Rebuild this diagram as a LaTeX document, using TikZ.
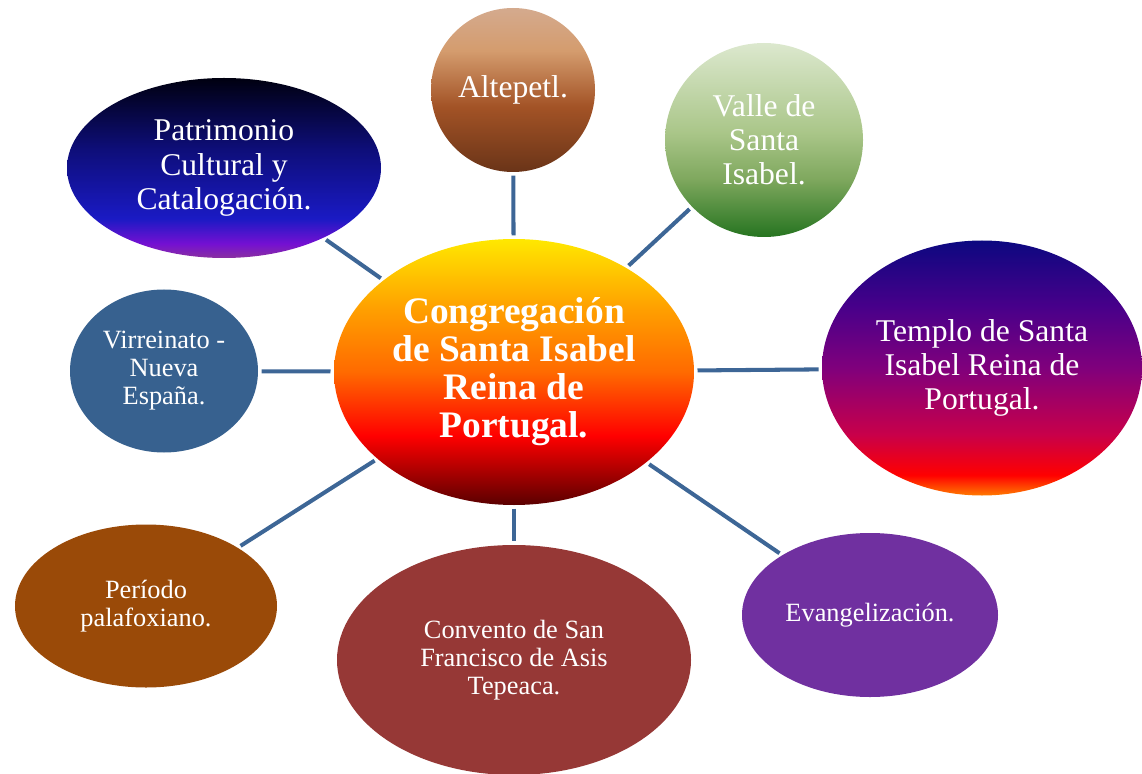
\documentclass[tikz,border=0pt]{standalone}
\usepackage{fontspec}
\setmainfont{Liberation Serif}
\usepackage{xcolor}
\usepackage{tikz}
\usetikzlibrary{shapes.geometric}
\usetikzlibrary{positioning}

\definecolor{linkblue}{HTML}{3D6696}
\definecolor{virrblue}{HTML}{37618F}
\definecolor{palabrown}{HTML}{9A4A08}
\definecolor{convred}{HTML}{963836}
\definecolor{evanpurple}{HTML}{7030A0}

\definecolor{cA}{HTML}{5A0000}
\definecolor{cB}{HTML}{FF0000}
\definecolor{cC}{HTML}{FF6A00}
\definecolor{cD}{HTML}{FFA000}
\definecolor{cE}{HTML}{FFE800}
\pgfdeclareverticalshading{centreshade}{100bp}{color(0bp)=(cA); color(25bp)=(cA); color(38bp)=(cB); color(50bp)=(cC); color(62bp)=(cD); color(75bp)=(cE); color(100bp)=(cE)}

\definecolor{aA}{HTML}{6A3418}
\definecolor{aB}{HTML}{A35326}
\definecolor{aC}{HTML}{D49C6E}
\definecolor{aD}{HTML}{D4AA8E}
\pgfdeclareverticalshading{altshade}{100bp}{color(0bp)=(aA); color(25bp)=(aA); color(45bp)=(aB); color(62bp)=(aC); color(75bp)=(aD); color(100bp)=(aD)}

\definecolor{vA}{HTML}{267420}
\definecolor{vB}{HTML}{7FA85E}
\definecolor{vC}{HTML}{AAC689}
\definecolor{vD}{HTML}{DCE8CE}
\pgfdeclareverticalshading{valleshade}{100bp}{color(0bp)=(vA); color(25bp)=(vA); color(40bp)=(vB); color(52bp)=(vC); color(75bp)=(vD); color(100bp)=(vD)}

\definecolor{pA}{HTML}{8A30A0}
\definecolor{pB}{HTML}{7410D2}
\definecolor{pC}{HTML}{1A1AC4}
\definecolor{pD}{HTML}{0E0E7A}
\definecolor{pE}{HTML}{000010}
\pgfdeclareverticalshading{patrishade}{100bp}{color(0bp)=(pA); color(25bp)=(pA); color(29bp)=(pB); color(36bp)=(pC); color(55bp)=(pD); color(75bp)=(pE); color(100bp)=(pE)}

\definecolor{tA}{HTML}{FF7A00}
\definecolor{tB}{HTML}{FF0000}
\definecolor{tC}{HTML}{C8004A}
\definecolor{tD}{HTML}{80007C}
\definecolor{tE}{HTML}{48008A}
\definecolor{tF}{HTML}{0C0880}
\pgfdeclareverticalshading{temploshade}{100bp}{color(0bp)=(tA); color(25bp)=(tA); color(29bp)=(tB); color(37bp)=(tC); color(50bp)=(tD); color(62bp)=(tE); color(75bp)=(tF); color(100bp)=(tF)}

\tikzset{
  bubble/.style={ellipse, inner sep=0pt, outer sep=0pt, align=center,
    text=white, font=\fontsize{18}{19.4}\selectfont},
  smallbubble/.style={bubble, font=\fontsize{15}{15.9}\selectfont},
  link/.style={draw=linkblue, line width=2.3pt, shorten >=2pt, shorten <=2pt}
}

\begin{document}
\begin{tikzpicture}
  \useasboundingbox (0,0) rectangle (22.84,-15.48);

  % centre
  \node[bubble, shading=centreshade, minimum width=7.2cm, minimum height=5.32cm,
        font=\bfseries\fontsize{21.3}{21.6}\selectfont] (centre) at (10.28,-7.44)
        {Congregación\\de Santa Isabel\\Reina de\\Portugal.};

  % shaded ones
  \node[bubble, shading=altshade, minimum width=3.28cm, minimum height=3.28cm]
        (altepetl) at (10.26,-1.80) {Altepetl.};
  \node[bubble, shading=valleshade, minimum width=3.96cm, minimum height=3.88cm]
        (valle) at (15.28,-2.80) {Valle de\\Santa\\Isabel.};
  \node[bubble, shading=patrishade, minimum width=6.28cm, minimum height=3.6cm]
        (patrimonio) at (4.48,-3.36) {Patrimonio\\Cultural y\\Catalogación.};
  \node[bubble, shading=temploshade, minimum width=6.4cm, minimum height=5.1cm]
        (templo) at (19.64,-7.36) {Templo de Santa\\Isabel Reina de\\Portugal.};

  % plain ones
  \node[smallbubble, fill=virrblue, minimum width=3.76cm, minimum height=3.26cm]
        (virreinato) at (3.28,-7.42) {Virreinato -\\Nueva\\España.};
  \node[smallbubble, fill=palabrown, minimum width=5.24cm, minimum height=3.26cm]
        (periodo) at (2.92,-12.12) {Período\\palafoxiano.};
  \node[smallbubble, fill=convred, minimum width=7.08cm, minimum height=4.6cm]
        (convento) at (10.28,-13.2) {Convento de San\\Francisco de Asis\\Tepeaca.};
  \node[smallbubble, fill=evanpurple, minimum width=5.12cm, minimum height=3.28cm]
        (evangelizacion) at (17.40,-12.30) {Evangelización.};

  \foreach \n in {altepetl, valle, patrimonio, templo, virreinato, periodo, convento, evangelizacion}
    \draw[link] (centre) -- (\n);

\end{tikzpicture}
\end{document}
